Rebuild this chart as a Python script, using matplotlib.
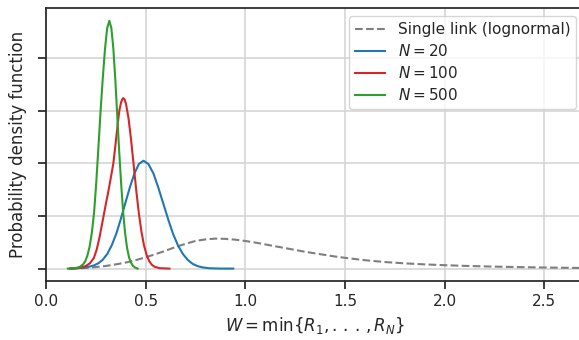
import matplotlib
matplotlib.use("Agg")
from matplotlib import pyplot as plt

# values
single_x = [0.12, 0.20, 0.25, 0.30, 0.35, 0.40, 0.45, 0.50, 0.55, 0.60, 0.65, 0.70, 0.75, 0.80,
            0.85, 0.90, 0.95, 1.00, 1.05, 1.10, 1.15, 1.20, 1.25, 1.30, 1.35, 1.40, 1.45, 1.50,
            1.60, 1.70, 1.80, 1.90, 2.00, 2.10, 2.20, 2.30, 2.40, 2.50, 2.60, 2.70]
single_y = [0.0, 0.012, 0.03, 0.05, 0.08, 0.115, 0.16, 0.215, 0.275, 0.34, 0.41, 0.47, 0.525, 0.555,
            0.57, 0.565, 0.55, 0.525, 0.495, 0.46, 0.425, 0.39, 0.355, 0.32, 0.29, 0.26, 0.23, 0.205,
            0.16, 0.125, 0.10, 0.08, 0.065, 0.052, 0.042, 0.034, 0.027, 0.021, 0.016, 0.012]

n20_x = [0.12, 0.16, 0.19, 0.22, 0.24, 0.262, 0.284, 0.307, 0.330, 0.353, 0.375, 0.398, 0.421,
         0.444, 0.466, 0.489, 0.514, 0.539, 0.563, 0.588, 0.613, 0.637, 0.662, 0.687, 0.712,
         0.736, 0.761, 0.786, 0.82, 0.87, 0.94]
n20_y = [0.0, 0.008, 0.02, 0.04, 0.06, 0.10, 0.165, 0.275, 0.443, 0.666, 0.938, 1.243, 1.547,
         1.809, 1.987, 2.05, 1.987, 1.809, 1.547, 1.243, 0.938, 0.666, 0.443, 0.277, 0.163,
         0.09, 0.047, 0.023, 0.007, 0.001, 0.0]

n100_x = [0.12, 0.15, 0.17, 0.20, 0.22, 0.24, 0.255, 0.27, 0.288, 0.300, 0.313, 0.325, 0.338,
          0.350, 0.360, 0.368, 0.376, 0.382, 0.388, 0.394, 0.401, 0.414, 0.427, 0.440, 0.453,
          0.466, 0.479, 0.492, 0.505, 0.518, 0.531, 0.544, 0.57, 0.62]
n100_y = [0.0, 0.006, 0.015, 0.05, 0.1, 0.2, 0.37, 0.62, 0.98, 1.22, 1.47, 1.72, 2.0,
          2.4, 2.75, 3.0, 3.15, 3.21, 3.24, 3.215, 3.14, 2.86, 2.445, 1.965, 1.483,
          1.052, 0.701, 0.438, 0.258, 0.142, 0.074, 0.036, 0.008, 0.0]

n500_x = [0.11, 0.13, 0.15, 0.17, 0.186, 0.197, 0.208, 0.219, 0.230, 0.241, 0.252, 0.263, 0.274,
          0.285, 0.296, 0.307, 0.318, 0.328, 0.338, 0.348, 0.357, 0.367, 0.377, 0.387, 0.397,
          0.407, 0.417, 0.427, 0.437, 0.447, 0.46]
n500_y = [0.0, 0.002, 0.01, 0.035, 0.08, 0.14, 0.25, 0.42, 0.68, 1.05, 1.62, 2.30, 3.0,
          3.62, 4.17, 4.57, 4.71, 4.57, 4.18, 3.58, 2.95, 2.25, 1.62, 1.08, 0.67,
          0.39, 0.21, 0.11, 0.05, 0.02, 0.0]

x_ticks = [0.0, 0.5, 1.0, 1.5, 2.0, 2.5]
y_ticks = [0, 1, 2, 3, 4]


def main():
    plt.rcParams['font.family'] = 'DejaVu Sans'
    fig = plt.figure(figsize=(5.79, 3.40), dpi=100)
    # the right edge of the axes runs a little past the picture, as in the reference
    ax = fig.add_axes([46 / 579, 59 / 340, 538 / 579, 272.7 / 340])

    ax.plot(single_x, single_y, color='tab:gray', ls='--', lw=1.5, label='Single link (lognormal)')
    ax.plot(n20_x, n20_y, color='tab:blue', lw=1.5, label='$N = 20$')
    ax.plot(n100_x, n100_y, color='tab:red', lw=1.5, label='$N = 100$')
    ax.plot(n500_x, n500_y, color='tab:green', lw=1.5, label='$N = 500$')

    ax.set_xlim(0, 2.7)
    ax.set_ylim(-0.2355, 4.946)
    ax.set_xticks(x_ticks)
    ax.set_yticks(y_ticks)
    ax.set_yticklabels([])
    ax.tick_params(labelsize=11, length=6, width=1.25, color='#262626', labelcolor='#262626')
    ax.grid(True, color='#d5d5d5', lw=1.2)
    ax.set_axisbelow(True)
    for side in ['left', 'bottom', 'top', 'right']:
        ax.spines[side].set_linewidth(1.25)
        ax.spines[side].set_color('#262626')

    ax.set_xlabel(r'$W = \min\{R_1, .\,.\,.\,, R_N\}$', fontsize=12, color='#262626')
    ax.set_ylabel('Probability density function', fontsize=12, color='#262626')
    leg = ax.legend(loc='upper right', fontsize=11, framealpha=0.8, edgecolor='#cccccc',
                    labelspacing=0.4)
    for t in leg.get_texts():
        t.set_color('#262626')

    fig.savefig('out.png', dpi=100)


if __name__ == '__main__':
    main()
